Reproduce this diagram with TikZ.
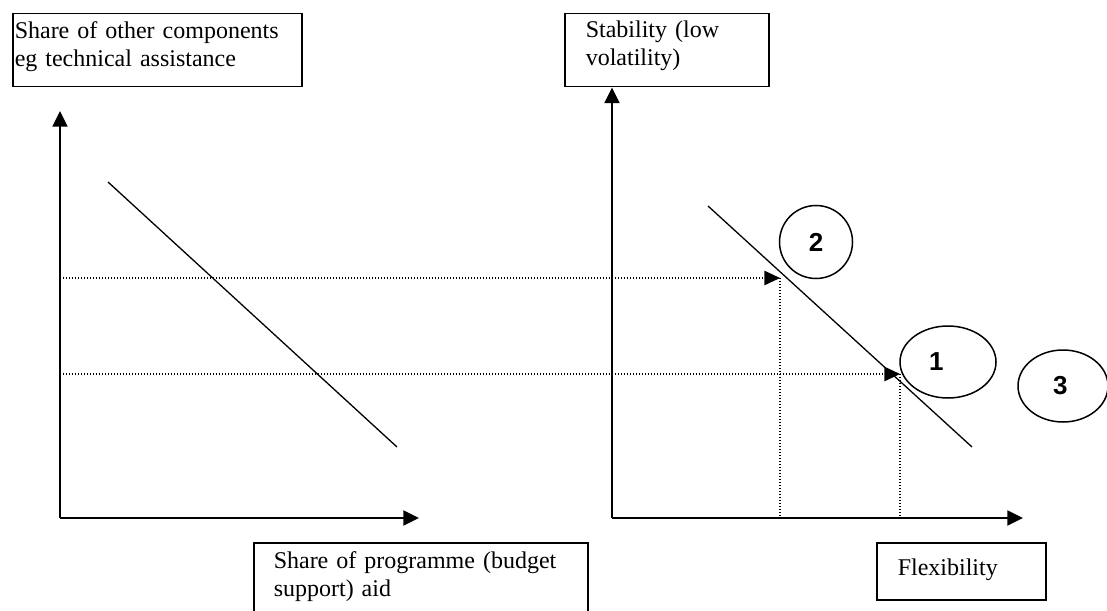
\documentclass[tikz,border=0pt]{standalone}
\usepackage{fontspec}
\setmainfont{Liberation Serif}
\newfontfamily\numfont{Liberation Sans}
\usetikzlibrary{arrows.meta,positioning,shapes.geometric}

\newcommand{\boxtop}[1]{\rule{0pt}{#1}}
\newcommand{\boxbot}[1]{\rule[-#1]{0pt}{#1}}

\begin{document}
\begin{tikzpicture}[
  x=0.5pt, y=-0.5pt,
  lbox/.style={draw, line width=0.75pt, anchor=north west, align=left, inner ysep=0pt, font=\fontsize{12}{13.8}\selectfont},
  axis/.style={line width=1pt, -{Triangle[length=7.8pt, width=7.5pt]}},
  trade/.style={line width=0.65pt},
  guide/.style={line width=0.6pt, dash pattern=on 0.6pt off 0.9pt},
  guidearr/.style={guide, -{Triangle[length=7.8pt, width=7.2pt]}},
  num/.style={draw, ellipse, line width=0.75pt, inner sep=0pt, font=\numfont\fontsize{13}{15}\selectfont\bfseries}
]
  \clip (0,0) rectangle (1107,610);

  % axis labels
  \node[lbox, text width=142.5pt, inner xsep=1pt] (yshare) at (12,13) {\boxtop{12.5pt}Share of other components\\eg technical assistance\boxbot{10.2pt}};
  \node[lbox, text width=81pt, inner xsep=10.5pt] (ystab) at (564,13) {\boxtop{12pt}Stability (low\\volatility)\boxbot{10.7pt}};
  \node[lbox, text width=147pt, inner xsep=10pt] (xshare) at (253,542) {\boxtop{13pt}Share of programme (budget\\support) aid\boxbot{12pt}};
  \node[lbox, text width=63.5pt, inner xsep=10.5pt] (xflex) at (876,542) {\boxtop{16.5pt}Flexibility\boxbot{12pt}};

  % left panel
  \coordinate (lo) at (60,518);
  \coordinate (ltip) at (60,111);
  \coordinate (lend) at (419,518);
  \coordinate (la) at (108,182);
  \coordinate (lb) at (397,447);
  \draw[axis] (lo) -- (ltip);
  \draw[axis] (lo) -- (lend);
  \draw[trade] (la) -- (lb);

  % right panel
  \coordinate (ro) at (612,518);
  \coordinate (rend) at (1023,518);
  \coordinate (ra) at (708,206);
  \coordinate (rb) at (972,447);
  \coordinate (p2) at (780,278);
  \coordinate (p1) at (900,374);
  \draw[axis] (ro) -- (ro |- ystab.south);
  \draw[axis] (ro) -- (rend);
  \draw[trade] (ra) -- (rb);

  % read-offs
  \draw[guidearr] (lo |- p2) -- (p2);
  \draw[guide] (p2) -- (p2 |- ro);
  \draw[guidearr] (lo |- p1) -- (p1);
  \draw[guide] (p1) -- (p1 |- ro);

  \node[num, minimum width=36.5pt, minimum height=36.5pt] (n2) at (816,242) {2};
  \node[num, minimum width=48pt, minimum height=36pt] (n1) at (948,362) {\makebox[19pt][l]{1}};
  \node[num, minimum width=45pt, minimum height=36pt] (n3) at (1063,386) {\makebox[10pt][l]{3}};
\end{tikzpicture}
\end{document}
